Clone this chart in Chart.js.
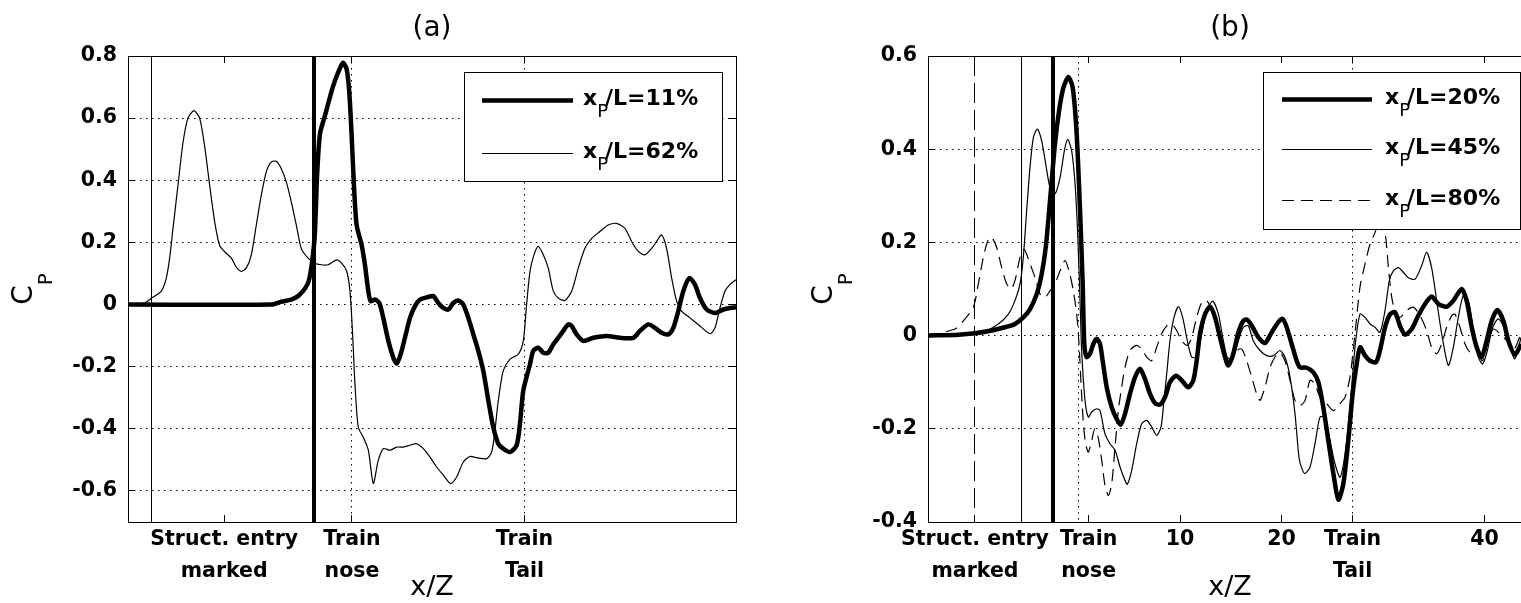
<!DOCTYPE html>
<html>
<head>
<meta charset="utf-8">
<title>Cp vs x/Z</title>
<script src="https://cdn.jsdelivr.net/npm/chart.js@4.4.0/dist/chart.umd.min.js"></script>
<style>
  html, body { margin: 0; padding: 0; background: #fff; overflow: hidden; }
  body { width: 1521px; height: 603px; position: relative; }
  canvas { position: absolute; top: 0; }
  #chartA { left: 0; }
  #chartB { left: 760px; }
</style>
</head>
<body>
<canvas id="chartA" width="760" height="603"></canvas>
<canvas id="chartB" width="800" height="603"></canvas>
<script>
// pressure coefficient traces, [x/Z, Cp]
// (a) probe at xP/L = 11% and 62%
const cpA11 = [[-35.05,0],[-12.6,0],[-11.1,0.009],[-9.5,0.016],[-8.45,0.027],[-7.67,0.043],[-6.99,0.064],[-6.6,0.09],[-6.1,0.16],[-5.8,0.23],[-5.45,0.42],[-5.0,0.55],[-4.2,0.61],[-3.0,0.70],[-2.0,0.755],[-1.4,0.778],[-0.83,0.757],[-0.42,0.683],[-0.05,0.544],[0.31,0.384],[0.73,0.256],[1.51,0.192],[2.03,0.128],[2.56,0.043],[2.92,0.011],[3.6,0.016],[4.28,0.005],[4.9,-0.043],[5.69,-0.117],[6.47,-0.171],[6.99,-0.19],[7.62,-0.16],[8.29,-0.107],[9.08,-0.043],[9.86,-0.005],[10.64,0.016],[11.69,0.023],[12.73,0.027],[13.51,0.005],[14.29,-0.011],[15.08,-0.016],[15.86,0.005],[16.64,0.013],[17.42,0],[18.21,-0.043],[18.99,-0.096],[19.77,-0.149],[20.55,-0.213],[21.34,-0.309],[22.12,-0.395],[22.9,-0.448],[23.68,-0.464],[24.73,-0.475],[25.77,-0.453],[26.29,-0.384],[26.81,-0.277],[27.86,-0.192],[28.38,-0.149],[29.16,-0.139],[29.94,-0.155],[30.72,-0.155],[31.51,-0.128],[32.29,-0.107],[33.07,-0.085],[33.85,-0.064],[34.38,-0.069],[35.16,-0.096],[36.2,-0.117],[37.77,-0.107],[39.85,-0.101],[41.94,-0.107],[44.03,-0.107],[45.07,-0.085],[46.38,-0.064],[47.42,-0.075],[48.46,-0.091],[49.5,-0.096],[50.29,-0.075],[51.07,-0.021],[51.85,0.043],[52.79,0.085],[53.68,0.064],[54.46,0.021],[55.51,-0.016],[56.81,-0.027],[58.11,-0.016],[59.15,-0.011],[60.1,-0.009]];
const cpA62 = [[-35.05,0],[-32.45,0.005],[-31.4,0.02],[-29.84,0.043],[-29.06,0.085],[-28.53,0.15],[-28.01,0.245],[-27.23,0.384],[-26.45,0.52],[-25.67,0.6],[-24.73,0.624],[-23.84,0.6],[-23.06,0.51],[-22.27,0.384],[-21.49,0.267],[-20.71,0.19],[-19.93,0.17],[-18.89,0.15],[-18.1,0.12],[-17.32,0.107],[-16.54,0.117],[-15.75,0.16],[-14.97,0.256],[-14.19,0.352],[-13.41,0.427],[-12.62,0.459],[-11.84,0.461],[-11.06,0.437],[-10.28,0.395],[-9.49,0.33],[-8.71,0.256],[-7.93,0.18],[-6.89,0.15],[-5.84,0.133],[-4.8,0.128],[-3.76,0.128],[-2.4,0.144],[-1.62,0.133],[-0.83,0.107],[-0.31,0.043],[0.1,-0.096],[0.47,-0.256],[0.99,-0.395],[1.77,-0.427],[2.56,-0.469],[3.34,-0.576],[4.12,-0.501],[4.9,-0.464],[5.95,-0.469],[6.99,-0.459],[8.03,-0.459],[9.08,-0.453],[10.12,-0.448],[11.16,-0.464],[12.21,-0.491],[13.25,-0.523],[14.29,-0.549],[15.44,-0.576],[16.38,-0.555],[17.42,-0.507],[18.47,-0.489],[19.51,-0.493],[21.08,-0.496],[21.86,-0.475],[22.38,-0.405],[22.9,-0.309],[23.68,-0.213],[24.73,-0.176],[26.03,-0.16],[26.81,-0.117],[27.33,0],[27.86,0.107],[28.48,0.16],[29.16,0.187],[29.94,0.16],[30.72,0.117],[31.51,0.043],[32.29,0.021],[33.33,0.013],[34.38,0.043],[35.42,0.117],[36.46,0.181],[37.51,0.213],[38.81,0.235],[40.11,0.256],[41.42,0.261],[42.72,0.245],[43.77,0.203],[44.81,0.171],[45.85,0.16],[46.9,0.181],[47.68,0.203],[48.46,0.224],[49.24,0.181],[50.03,0.085],[50.81,0.011],[51.59,-0.021],[52.9,-0.043],[54.46,-0.069],[56.03,-0.094],[56.81,-0.075],[57.59,-0.011],[58.37,0.043],[59.15,0.064],[60.1,0.08]];

// (b) probe at xP/L = 20%, 45% and 80%
const cpB20 = [[-14.9,0],[-11.84,0.002],[-10.19,0.005],[-8.55,0.011],[-7.24,0.018],[-6.26,0.025],[-5.44,0.039],[-4.78,0.057],[-4.12,0.089],[-3.63,0.132],[-3.23,0.189],[-2.81,0.289],[-2.32,0.411],[-1.92,0.482],[-1.49,0.532],[-1.0,0.555],[-0.57,0.532],[-0.18,0.432],[0.15,0.268],[0.41,0.111],[0.57,-0.018],[0.8,-0.046],[1.13,-0.039],[1.46,-0.018],[1.79,-0.007],[2.12,-0.018],[2.38,-0.054],[2.78,-0.111],[3.27,-0.154],[3.76,-0.179],[4.15,-0.191],[4.58,-0.168],[5.07,-0.125],[5.57,-0.089],[6.06,-0.071],[6.55,-0.093],[7.04,-0.125],[7.54,-0.145],[8.03,-0.148],[8.52,-0.132],[9.01,-0.1],[9.61,-0.086],[10.16,-0.096],[10.82,-0.111],[11.31,-0.096],[11.64,-0.054],[11.97,0.004],[12.46,0.046],[12.96,0.062],[13.45,0.039],[13.94,-0.004],[14.43,-0.046],[14.76,-0.064],[15.25,-0.039],[15.75,0.007],[16.24,0.032],[16.63,0.034],[17.16,0.018],[17.72,-0.004],[18.37,-0.016],[19.03,0.007],[19.69,0.029],[20.12,0.036],[20.51,0.018],[21.0,-0.018],[21.49,-0.054],[21.82,-0.068],[22.48,-0.069],[23.14,-0.079],[23.63,-0.1],[24.12,-0.154],[24.61,-0.225],[25.11,-0.296],[25.6,-0.352],[26.09,-0.318],[26.58,-0.225],[27.01,-0.125],[27.41,-0.061],[27.73,-0.025],[28.23,-0.043],[28.72,-0.054],[29.31,-0.057],[29.7,-0.032],[30.2,0.018],[30.69,0.046],[31.18,0.05],[31.67,0.021],[32.17,0.002],[32.82,0.014],[33.48,0.043],[34.14,0.068],[34.79,0.084],[35.45,0.068],[36.27,0.062],[36.93,0.075],[37.75,0.1],[38.24,0.075],[38.74,0.018],[39.23,-0.025],[39.72,-0.046],[40.21,-0.011],[40.71,0.032],[41.26,0.055],[41.86,0.032],[42.35,-0.011],[43.0,-0.041],[43.6,-0.018]];
const cpB45 = [[-14.9,0],[-9.54,0.007],[-7.9,0.025],[-6.91,0.046],[-6.26,0.075],[-5.76,0.111],[-5.44,0.168],[-5.11,0.268],[-4.78,0.361],[-4.45,0.425],[-4.06,0.443],[-3.63,0.418],[-3.23,0.368],[-2.81,0.318],[-2.32,0.304],[-1.82,0.339],[-1.4,0.396],[-1.07,0.421],[-0.67,0.396],[-0.34,0.325],[-0.08,0.218],[0.15,0.075],[0.31,-0.032],[0.64,-0.139],[0.97,-0.175],[1.3,-0.164],[1.79,-0.157],[2.12,-0.161],[2.61,-0.211],[3.1,-0.232],[3.6,-0.246],[4.09,-0.282],[4.58,-0.311],[4.81,-0.319],[5.24,-0.289],[5.73,-0.232],[6.22,-0.189],[6.72,-0.182],[7.21,-0.196],[7.7,-0.214],[8.13,-0.196],[8.42,-0.139],[8.69,-0.082],[9.01,-0.011],[9.41,0.039],[9.84,0.062],[10.26,0.039],[10.72,-0.011],[11.15,-0.046],[11.64,-0.046],[12.14,0.004],[12.63,0.054],[13.22,0.074],[13.78,0.046],[14.27,-0.011],[14.76,-0.054],[15.25,-0.046],[15.75,-0.011],[16.24,0.018],[16.73,0.021],[17.22,-0.011],[17.88,-0.032],[18.54,-0.043],[19.2,-0.043],[19.85,-0.032],[20.34,-0.046],[20.84,-0.089],[21.33,-0.168],[21.72,-0.261],[22.0,-0.285],[22.32,-0.296],[22.81,-0.282],[23.3,-0.232],[23.79,-0.175],[24.29,-0.175],[24.78,-0.225],[25.27,-0.275],[25.76,-0.304],[26.26,-0.254],[26.75,-0.154],[27.24,-0.025],[27.73,0.046],[28.23,0.039],[28.72,0.025],[29.21,0.018],[29.7,0.007],[30.2,0.054],[30.62,0.118],[31.02,0.139],[31.51,0.146],[32.0,0.136],[32.5,0.124],[33.15,0.121],[33.81,0.15],[34.3,0.179],[34.79,0.146],[35.29,0.075],[35.78,0.004],[36.44,-0.064],[36.93,-0.025],[37.42,0.039],[37.91,0.086],[38.41,0.075],[38.9,0.011],[39.39,-0.046],[39.82,-0.061],[40.28,-0.032],[40.81,0.018],[41.36,0.036],[41.93,0.018],[42.51,-0.025],[43.0,-0.05],[43.6,-0.004]];
const cpB80 = [[-14.9,0],[-12.17,0.014],[-11.18,0.036],[-10.36,0.061],[-9.87,0.111],[-9.38,0.168],[-8.88,0.207],[-8.55,0.211],[-8.06,0.189],[-7.57,0.146],[-7.08,0.111],[-6.65,0.1],[-6.26,0.118],[-5.76,0.168],[-5.34,0.185],[-4.78,0.154],[-4.29,0.125],[-3.79,0.089],[-3.3,0.082],[-2.81,0.096],[-2.32,0.111],[-1.82,0.139],[-1.33,0.161],[-0.94,0.139],[-0.51,0.096],[-0.18,0.046],[0.05,-0.018],[0.25,-0.104],[0.48,-0.189],[0.7,-0.232],[0.97,-0.25],[1.3,-0.225],[1.6,-0.2],[1.95,-0.22],[2.3,-0.27],[2.6,-0.32],[2.94,-0.343],[3.27,-0.318],[3.6,-0.239],[3.92,-0.161],[4.25,-0.111],[4.58,-0.068],[5.07,-0.032],[5.73,-0.021],[6.22,-0.029],[6.72,-0.046],[7.21,-0.054],[7.7,-0.025],[8.19,0.004],[8.69,0.021],[9.18,0.025],[9.67,0.011],[10.16,-0.011],[10.72,-0.021],[11.15,-0.004],[11.64,0.039],[12.14,0.071],[12.63,0.075],[13.12,0.054],[13.62,0.018],[14.11,-0.018],[14.6,-0.046],[15.09,-0.05],[15.58,-0.032],[16.08,-0.029],[16.57,-0.054],[17.06,-0.089],[17.55,-0.125],[17.88,-0.139],[18.37,-0.111],[18.87,-0.068],[19.36,-0.046],[19.85,-0.036],[20.34,-0.054],[20.84,-0.096],[21.33,-0.139],[21.82,-0.15],[22.32,-0.139],[22.81,-0.096],[23.3,-0.104],[23.79,-0.132],[24.45,-0.146],[25.11,-0.161],[25.76,-0.146],[26.26,-0.132],[26.75,-0.089],[27.24,0.004],[27.73,0.104],[28.23,0.154],[28.72,0.196],[29.21,0.221],[29.7,0.25],[30.2,0.221],[30.53,0.146],[30.86,0.082],[31.18,0.054],[31.67,0.039],[32.33,0.054],[32.99,0.061],[33.64,0.043],[34.3,0.011],[34.79,-0.025],[35.29,-0.039],[35.78,-0.018],[36.27,0.018],[36.77,0.043],[37.09,0.046],[37.58,0.018],[38.08,-0.018],[38.57,-0.036],[39.23,-0.039],[39.82,-0.054],[40.38,-0.011],[40.87,0.014],[41.53,0.004],[42.19,-0.011],[42.84,-0.032],[43.6,0.004]];

// structure entry lines: x/Z position, width, dash
const entryA = [[-31.3, 1, []], [-6.0, 4, []]];
const entryB = [[-10.2, 1, [20, 7]], [-5.6, 1, []], [-2.48, 4, []]];
// train nose and tail
const trainEnds = [0, 27];

const xTicksA = [-20, 0, 27];
const xLabelsA = [['Struct. entry', 'marked'], ['Train', 'nose'], ['Train', 'Tail']];
const xTicksB = [-10.2, 1, 10, 20, 27, 40];
const xLabelsB = [['Struct. entry', 'marked'], ['Train', 'nose'], '10', '20', ['Train', 'Tail'], '40'];
const yTicksA = [-0.6, -0.4, -0.2, 0, 0.2, 0.4, 0.6, 0.8];
const yTicksB = [-0.4, -0.2, 0, 0.2, 0.4, 0.6];
const keysA = ['11%', '62%'];
const keysB = ['20%', '45%', '80%'];

const FONT = "'DejaVu Sans', sans-serif";
Chart.defaults.font.family = FONT;
Chart.defaults.color = '#000';

const THICK = 4.5;
const THIN = 1.2;
const DASH = [12, 7];

function trace(points, width, dash, label) {
  return {
    label: label,
    data: points.map(p => ({ x: p[0], y: p[1] })),
    borderColor: '#000', borderWidth: width, borderDash: dash,
    pointRadius: 0, tension: 0.25, borderJoinStyle: 'round', fill: false
  };
}

function txt(ctx, s, font, x, y) {
  ctx.font = font + ' ' + FONT;
  ctx.fillText(s, x, y);
  return ctx.measureText(s).width;
}

// crisp pixel for a line of given width
function snap(p, w) {
  return Math.round(w) % 2 ? Math.round(p - 0.5) + 0.5 : Math.round(p);
}

// dotted grid, entry lines, box, inward ticks, key and titles
const decor = {
  id: 'decor',
  beforeDatasetsDraw(chart, args, o) {
    const { ctx, chartArea: a, scales: { x, y } } = chart;
    ctx.save();
    ctx.strokeStyle = '#000';
    ctx.lineWidth = 1;
    ctx.setLineDash([1.5, 4.5]);
    ctx.beginPath();
    y.ticks.forEach(t => {
      const py = snap(y.getPixelForValue(t.value), 1);
      if (py > a.top + 2 && py < a.bottom - 2) { ctx.moveTo(a.left, py); ctx.lineTo(a.right, py); }
    });
    o.guides.forEach(v => {
      const px = snap(x.getPixelForValue(v), 1);
      ctx.moveTo(px, a.top); ctx.lineTo(px, a.bottom);
    });
    ctx.stroke();
    o.entries.forEach(([v, w, dash]) => {
      const px = snap(x.getPixelForValue(v), w);
      ctx.lineWidth = w;
      ctx.setLineDash(dash);
      ctx.beginPath();
      ctx.moveTo(px, a.top); ctx.lineTo(px, a.bottom);
      ctx.stroke();
    });
    ctx.restore();
  },
  afterDatasetsDraw(chart, args, o) {
    const { ctx, chartArea: a, scales: { x, y } } = chart;
    ctx.save();
    ctx.strokeStyle = '#000';
    ctx.lineWidth = 1;
    ctx.beginPath();
    x.ticks.forEach(t => {
      const px = snap(x.getPixelForValue(t.value), 1);
      ctx.moveTo(px, a.top); ctx.lineTo(px, a.top + 7);
      ctx.moveTo(px, a.bottom); ctx.lineTo(px, a.bottom - 7);
    });
    y.ticks.forEach(t => {
      const py = snap(y.getPixelForValue(t.value), 1);
      ctx.moveTo(a.left, py); ctx.lineTo(a.left + 7, py);
      ctx.moveTo(a.right, py); ctx.lineTo(a.right - 7, py);
    });
    ctx.stroke();
    ctx.strokeRect(Math.round(a.left) + 0.5, Math.round(a.top) + 0.5, Math.round(a.width), Math.round(a.height));

    // key box
    const k = o.key;
    const bx = Math.round(a.right) - k.right - k.w;
    const by = Math.round(a.top) + k.top;
    ctx.fillStyle = '#fff';
    ctx.fillRect(bx, by, k.w, k.h);
    ctx.strokeRect(bx + 0.5, by + 0.5, k.w, k.h);
    ctx.fillStyle = '#000';
    ctx.textAlign = 'left';
    ctx.textBaseline = 'alphabetic';
    chart.data.datasets.forEach((d, i) => {
      const ly = snap(by + k.first + i * k.step, d.borderWidth);
      ctx.lineWidth = d.borderWidth;
      ctx.setLineDash(d.borderDash || []);
      ctx.beginPath();
      ctx.moveTo(bx + k.from, ly);
      ctx.lineTo(bx + k.to, ly);
      ctx.stroke();
      ctx.setLineDash([]);
      let tx = bx + k.text;
      const base = Math.round(ly) + 4;
      tx += txt(ctx, 'x', 'bold 22px', tx, base);
      tx += txt(ctx, 'P', '18px', tx, base + 12) - 3;
      txt(ctx, '/L=' + d.label, 'bold 22px', tx, base);
    });
    ctx.restore();
  },
  afterDraw(chart, args, o) {
    const { ctx, chartArea: a } = chart;
    const cx = (a.left + a.right) / 2;
    ctx.save();
    ctx.fillStyle = '#000';
    ctx.textAlign = 'center';
    ctx.textBaseline = 'alphabetic';
    txt(ctx, o.title, '28px', cx, 36);
    txt(ctx, 'x/Z', '27px', cx, 595);
    // C with subscript P, rotated
    ctx.translate(a.left - 96, (a.top + a.bottom) / 2);
    ctx.rotate(-Math.PI / 2);
    ctx.textAlign = 'left';
    ctx.font = '28px ' + FONT;
    const wC = ctx.measureText('C').width;
    ctx.font = '20px ' + FONT;
    const wP = ctx.measureText('P').width;
    const t0 = -(wC + wP) / 2;
    txt(ctx, 'C', '28px', t0, 0);
    txt(ctx, 'P', '20px', t0 + wC, 20);
    ctx.restore();
  }
};

function panel(id, cfg) {
  return new Chart(document.getElementById(id), {
    type: 'line',
    data: { datasets: cfg.datasets },
    options: {
      responsive: false,
      animation: false,
      events: [],
      layout: { padding: { left: 0, top: 56, right: cfg.padRight, bottom: 0 } },
      scales: {
        x: {
          type: 'linear', min: cfg.xMin, max: cfg.xMax,
          afterBuildTicks: s => { s.ticks = cfg.xTicks.map(v => ({ value: v })); },
          afterFit: s => { s.height = 81; },
          grid: { display: false, drawTicks: false },
          border: { display: false },
          ticks: {
            autoSkip: false, maxRotation: 0, minRotation: 0, padding: 2,
            font: { size: 20.5, weight: 'bold', lineHeight: 1.55 },
            callback: (v, i) => cfg.xLabels[i]
          }
        },
        y: {
          type: 'linear', min: cfg.yMin, max: cfg.yMax,
          afterBuildTicks: s => { s.ticks = cfg.yTicks.map(v => ({ value: v })); },
          afterFit: s => { s.width = cfg.axisLeft; },
          grid: { display: false, drawTicks: false },
          border: { display: false },
          ticks: {
            padding: 11,
            font: { size: 20.5, weight: 'bold' },
            callback: v => (v === 0 ? '0' : v.toFixed(1))
          }
        }
      },
      plugins: {
        legend: { display: false },
        tooltip: { enabled: false },
        decor: { title: cfg.title, guides: trainEnds, entries: cfg.entries, key: cfg.key }
      }
    },
    plugins: [decor]
  });
}

panel('chartA', {
  title: '(a)',
  xMin: -35.05, xMax: 60.1, yMin: -0.7, yMax: 0.8,
  xTicks: xTicksA, xLabels: xLabelsA, yTicks: yTicksA,
  axisLeft: 128, padRight: 24, entries: entryA,
  key: { w: 258, h: 109, right: 14, top: 16, first: 28, step: 53, from: 18, to: 109, text: 119 },
  datasets: [
    trace(cpA11, THICK, [], keysA[0]),
    trace(cpA62, THIN, [], keysA[1])
  ]
});

panel('chartB', {
  title: '(b)',
  xMin: -14.83, xMax: 44.68, yMin: -0.4, yMax: 0.6,
  xTicks: xTicksB, xLabels: xLabelsB, yTicks: yTicksB,
  axisLeft: 168, padRight: 28, entries: entryB,
  key: { w: 257, h: 157, right: 12, top: 16, first: 27, step: 50.5, from: 19, to: 109, text: 122 },
  datasets: [
    trace(cpB20, THICK, [], keysB[0]),
    trace(cpB45, THIN, [], keysB[1]),
    trace(cpB80, THIN, DASH, keysB[2])
  ]
});
</script>
</body>
</html>
